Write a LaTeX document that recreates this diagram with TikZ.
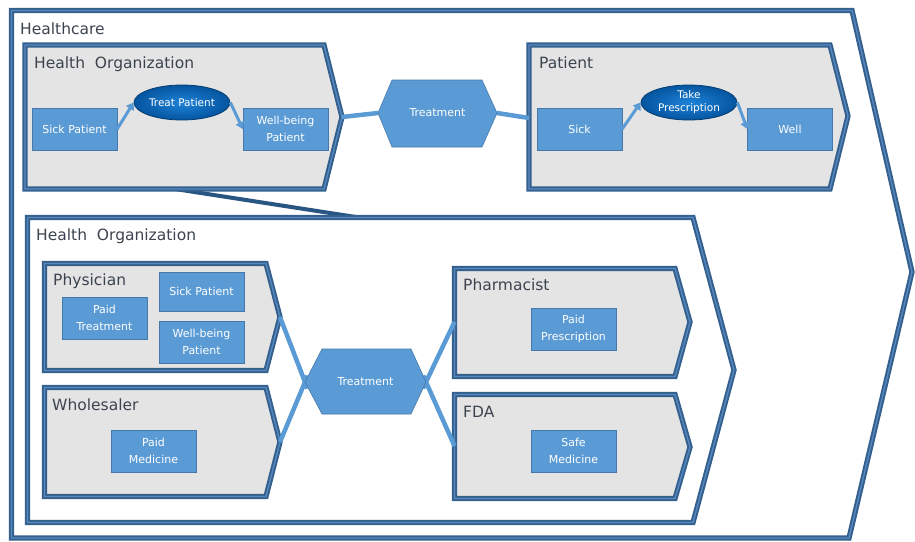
\documentclass[tikz,border=0pt]{standalone}
\usepackage{fontspec}
\setmainfont{DejaVu Sans}
\usepackage{xcolor}
\usetikzlibrary{arrows.meta,shapes.geometric}

\definecolor{itemblue}{RGB}{91,155,213}
\definecolor{itemline}{RGB}{70,120,170}
\definecolor{framedark}{RGB}{52,96,142}
\definecolor{framelight}{RGB}{88,138,192}
\definecolor{panelgray}{RGB}{228,228,228}
\definecolor{titlegray}{RGB}{60,68,80}
\definecolor{ovalin}{RGB}{30,130,215}
\definecolor{ovalout}{RGB}{5,85,160}
\definecolor{linkdark}{RGB}{40,85,130}

\begin{document}
\begin{tikzpicture}[x=1pt,y=-1pt,
  frame/.style={draw=framedark,line width=2pt,double=framelight,double distance=1.3pt,line join=miter},
  title/.style={anchor=base west,inner sep=0pt,text=titlegray,font=\fontsize{15.5}{18}\selectfont},
  item/.style={draw=itemline,fill=itemblue,text=white,align=center,minimum width=85pt,minimum height=42pt,inner sep=1pt,font=\fontsize{11}{16.5}\selectfont},
  oval/.style={ellipse,draw=ovalout!70!black,line width=0.8pt,inner color=ovalin,outer color=ovalout,text=white,align=center,minimum width=96pt,minimum height=35pt,inner sep=0pt,font=\fontsize{10.5}{13}\selectfont},
  hexa/.style={fill=itemblue,draw=itemline,line width=0.6pt},
  hexlabel/.style={text=white,font=\fontsize{11}{13}\selectfont},
  link/.style={draw=itemblue,line width=4.5pt},
  flow/.style={draw=itemblue,line width=3pt,-{Triangle[length=7pt,width=9pt]}}]
\useasboundingbox (0,0) rectangle (915,541);
% healthcare
\draw[frame,fill=white] (11.5,10.5) -- (852,10.5) -- (912,272) -- (849,538) -- (11.5,538) -- cycle;
\node[title] (hc) at (20,34) {Healthcare};
\coordinate (ho-b) at (175,189);
\coordinate (lho-t) at (359,217.5);
\draw[draw=linkdark,line width=4pt] (ho-b) -- (lho-t);
% top row
\draw[frame,fill=panelgray] (25,45) -- (324,45) -- (342,117) coordinate (ho-pt) -- (324,189) -- (25,189) -- cycle;
\node[title] (ho) at (34,68) {Health\ \ Organization};
\draw[frame,fill=panelgray] (529,45) coordinate (pat-nw) -- (830,45) -- (848,116) -- (830,189) -- (529,189) -- cycle;
\coordinate (pat-w) at (529,118);
\node[title] (pat) at (539,68) {Patient};
\coordinate (tr-w) at (378,113);
\coordinate (tr-e) at (497,113);
\draw[link] (ho-pt) -- (tr-w);
\draw[link] (tr-e) -- (pat-w);
\draw[hexa] (tr-w) -- (392,80) -- (482,80) -- (tr-e) -- (482,147) -- (392,147) -- cycle;
\node[hexlabel] (tr) at (437.5,113) {Treatment};
\node[item] (sickp) at (74.5,129) {Sick Patient};
\node[oval] (treatp) at (182,102.5) {Treat Patient};
\node[item] (wbp) at (285.5,129) {Well-being\\Patient};
\draw[flow] (sickp.east) -- (treatp.west);
\draw[flow] (treatp.east) -- (wbp.west);
\node[item] (sick) at (579.5,129) {Sick};
\node[oval] (takep) at (689,102.5) {Take\\Prescription};
\node[item] (well) at (790,129) {Well};
\draw[flow] (sick.east) -- (takep.west);
\draw[flow] (takep.east) -- (well.west);
% lower health organization
\draw[frame,fill=white] (27.5,217.5) -- (693,217.5) -- (734,370) -- (693,522.5) -- (27.5,522.5) -- cycle;
\node[title] (lho) at (36,240) {Health\ \ Organization};
\draw[frame,fill=panelgray] (44.5,263.5) -- (266,263.5) -- (280,317) coordinate (phy-pt) -- (266,370.5) -- (44.5,370.5) -- cycle;
\node[title] (phy) at (53,285) {Physician};
\draw[frame,fill=panelgray] (44.5,387.5) -- (266,387.5) -- (280,442) coordinate (who-pt) -- (266,496.5) -- (44.5,496.5) -- cycle;
\node[title] (who) at (52,410) {Wholesaler};
\draw[frame,fill=panelgray] (454.5,268.5) -- (675,268.5) -- (690,322) -- (675,376.5) -- (454.5,376.5) -- cycle;
\coordinate (pha-w) at (454.5,322);
\node[title] (pha) at (463,290) {Pharmacist};
\draw[frame,fill=panelgray] (454.5,394.5) -- (675,394.5) -- (690,447) -- (675,498.5) -- (454.5,498.5) -- cycle;
\coordinate (fda-w) at (454.5,446);
\node[title] (fda) at (463,417) {FDA};
\coordinate (tr2-w) at (305,382);
\coordinate (tr2-e) at (426,382);
\draw[link,shorten >=-7pt] (phy-pt) -- (tr2-w);
\draw[link,shorten >=-7pt] (who-pt) -- (tr2-w);
\draw[link,shorten <=-7pt] (tr2-e) -- (pha-w);
\draw[link,shorten <=-7pt] (tr2-e) -- (fda-w);
\draw[hexa] (tr2-w) -- (322,349) -- (411,349) -- (tr2-e) -- (411,414) -- (322,414) -- cycle;
\node[hexlabel] (tr2) at (365.5,382) {Treatment};
\node[item] (paidt) at (104.5,318) {Paid\\Treatment};
\node[item,minimum height=39pt] (sickp2) at (201.5,291.5) {Sick Patient};
\node[item] (wbp2) at (201.5,342) {Well-being\\Patient};
\node[item] (paidm) at (153.5,451) {Paid\\Medicine};
\node[item] (paidp) at (573.5,329) {Paid\\Prescription};
\node[item] (safem) at (573.5,451) {Safe\\Medicine};
\end{tikzpicture}
\end{document}
